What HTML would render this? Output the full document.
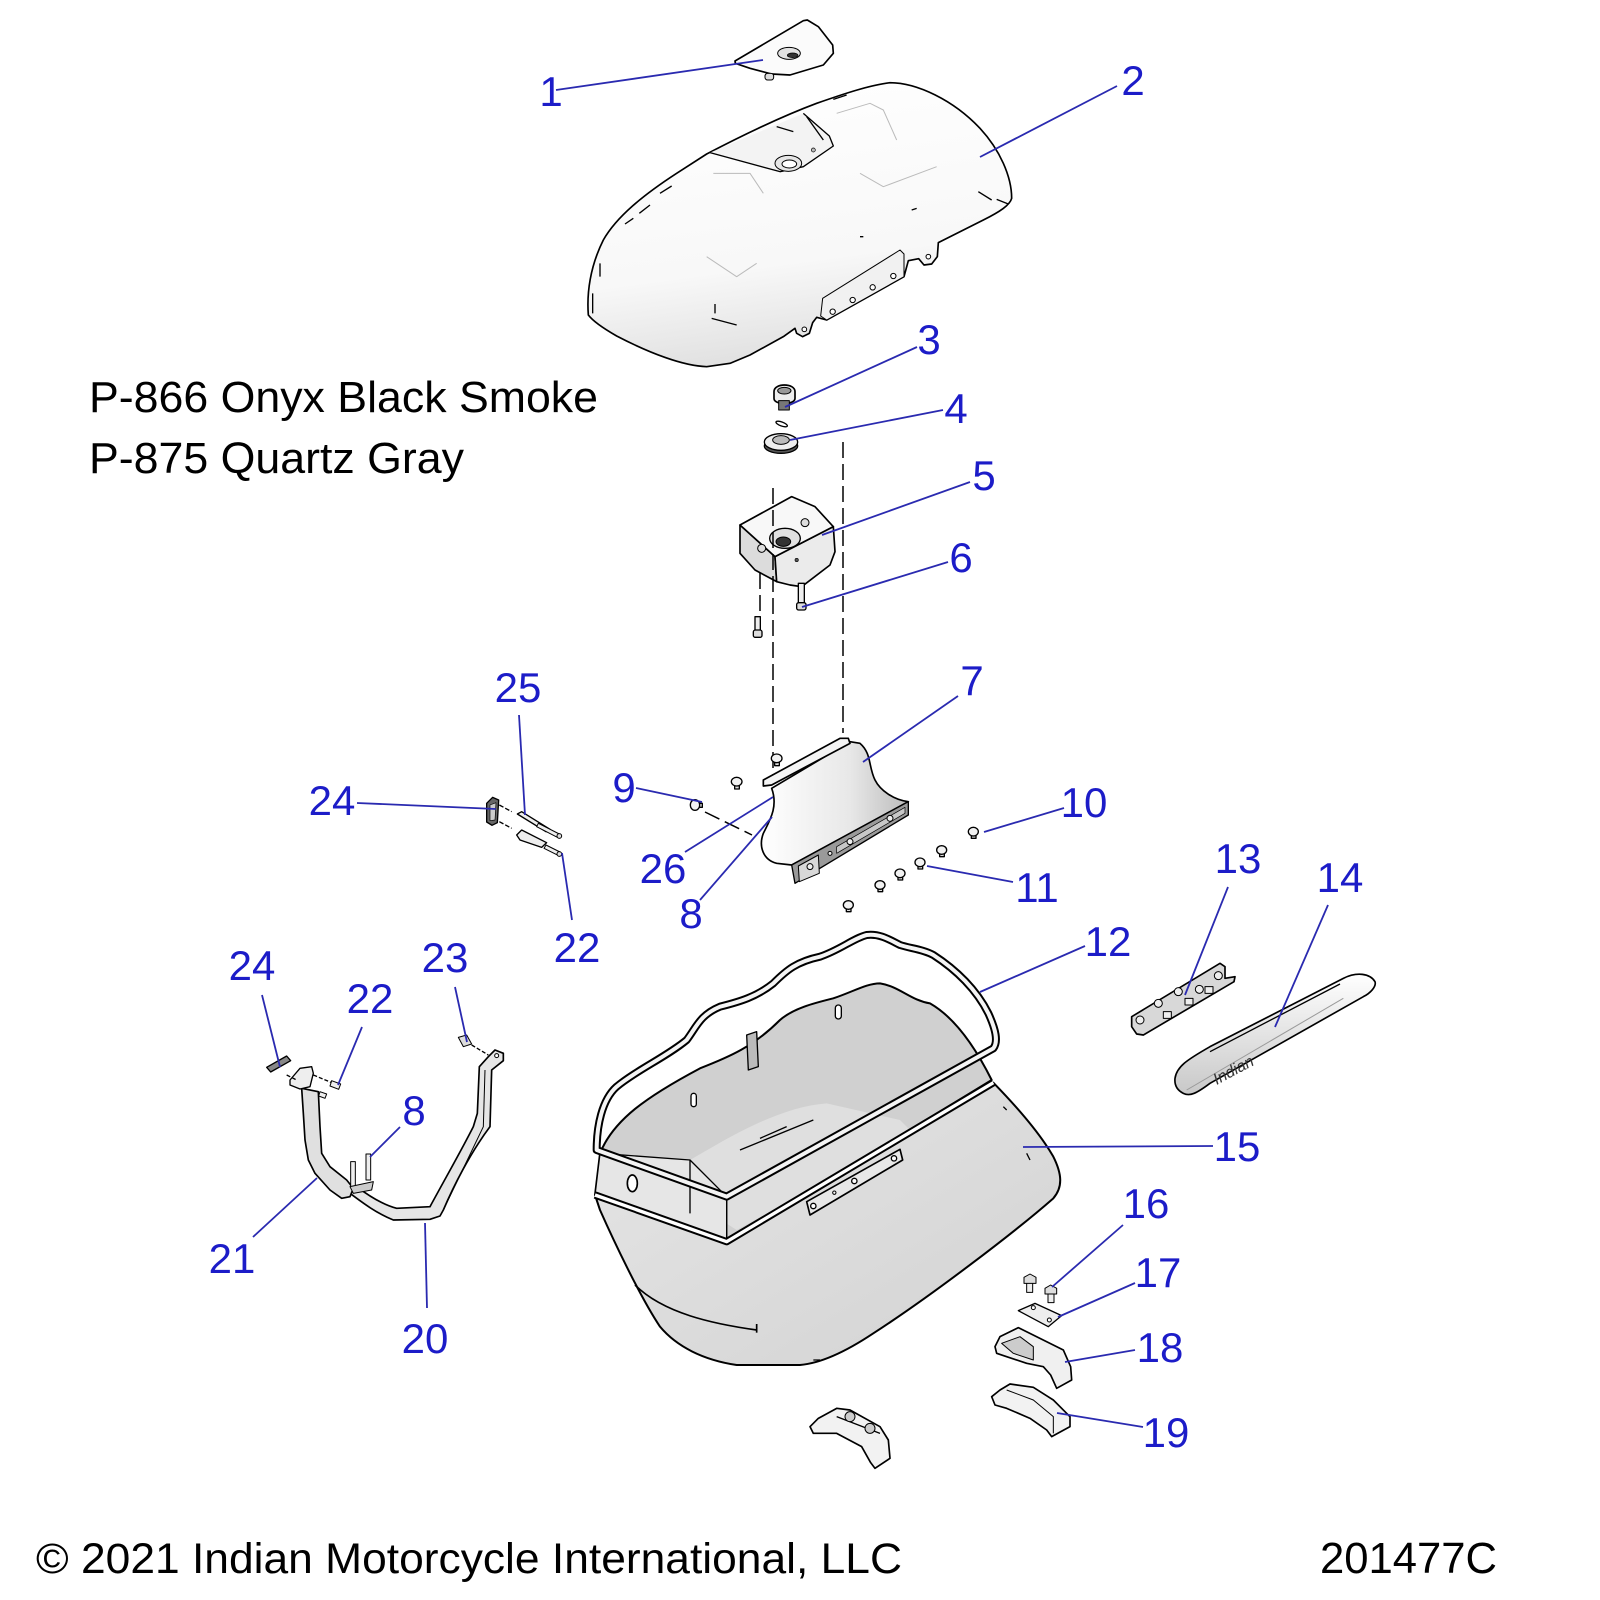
<!DOCTYPE html>
<html>
<head>
<meta charset="utf-8">
<style>
html,body{margin:0;padding:0;background:#fff;}
svg{display:block;}
text{font-family:"Liberation Sans",Arial,sans-serif;}
.lb{fill:#1c1cc8;font-size:42px;text-anchor:middle;}
.ld{stroke:#2a2ab0;stroke-width:1.8;fill:none;}
.ds{stroke:#000;stroke-width:1.5;stroke-dasharray:16 6;fill:none;}
</style>
</head>
<body>
<svg width="1600" height="1600" viewBox="0 0 1600 1600" xmlns="http://www.w3.org/2000/svg">
<defs>
<linearGradient id="gLid" x1="0" y1="0" x2="0.2" y2="1">
<stop offset="0" stop-color="#ffffff"/><stop offset="0.7" stop-color="#f8f8f8"/><stop offset="1" stop-color="#e2e2e2"/>
</linearGradient>
<linearGradient id="gBag" x1="0" y1="0" x2="1" y2="1">
<stop offset="0" stop-color="#e6e6e6"/><stop offset="0.5" stop-color="#dcdcdc"/><stop offset="1" stop-color="#d2d2d2"/>
</linearGradient>
<linearGradient id="gCyl" x1="0" y1="0" x2="1" y2="0">
<stop offset="0" stop-color="#ffffff"/><stop offset="0.6" stop-color="#e8e8e8"/><stop offset="1" stop-color="#bcbcbc"/>
</linearGradient>
<linearGradient id="gTrim" x1="0" y1="0" x2="0" y2="1">
<stop offset="0" stop-color="#ffffff"/><stop offset="1" stop-color="#c8c8c8"/>
</linearGradient>
</defs>
<rect width="1600" height="1600" fill="#fff"/>

<!-- ===== Lid (2) and cap (1) : zoom2 coords ===== -->
<g transform="translate(550,0) scale(0.3333333)" stroke="#000" stroke-linejoin="round">
  <!-- cap 1 -->
  <path d="M555,183 L760,62 L772,60 L805,80 L848,135 L850,160 L820,195 L720,225 L665,222 L600,205 L556,190 Z" fill="#fbfbfb" stroke-width="5"/>
  <ellipse cx="717" cy="160" rx="34" ry="18" fill="#e2e2e2" stroke-width="3"/>
  <ellipse cx="728" cy="166" rx="16" ry="7" fill="#333" stroke-width="2"/>
  <rect x="645" y="220" width="26" height="20" rx="8" fill="#ddd" stroke-width="3"/>
  <!-- lid -->
  <path d="M115,945 C110,880 120,800 160,720 C200,650 280,585 380,520 L470,462 C560,415 680,355 800,310 C880,282 960,255 1020,248 C1100,248 1210,300 1290,385 C1350,450 1385,530 1385,595 C1380,615 1350,635 1300,660 L1165,728 L1162,770 L1145,792 L1122,795 L1106,776 L1075,782 L1062,830 L830,960 L800,952 L788,968 L778,1000 L758,1010 L740,1000 L735,985 L700,1010 L600,1065 L540,1090 L470,1100 C400,1098 300,1060 200,1008 C160,985 130,965 115,945 Z" fill="url(#gLid)" stroke-width="5"/>
  <!-- flange -->
  <path d="M818,895 L1050,750 L1062,762 L1062,830 L830,960 L812,948 Z" fill="#f1f1f1" stroke-width="3"/>
  <circle cx="848" cy="935" r="8" fill="#fff" stroke-width="3"/>
  <circle cx="908" cy="900" r="8" fill="#fff" stroke-width="3"/>
  <circle cx="968" cy="862" r="8" fill="#fff" stroke-width="3"/>
  <circle cx="1030" cy="828" r="8" fill="#fff" stroke-width="3"/>
  <circle cx="1135" cy="770" r="7" fill="#fff" stroke-width="3"/>
  <circle cx="763" cy="988" r="7" fill="#fff" stroke-width="3"/>
  <!-- recessed panel -->
  <path d="M480,458 L690,515 L760,500 L850,438 L838,408 L760,340" fill="#f3f3f3" stroke-width="4"/>
  <ellipse cx="715" cy="490" rx="40" ry="24" fill="#e6e6e6" stroke-width="3"/>
  <ellipse cx="718" cy="492" rx="22" ry="12" fill="#fff" stroke-width="3"/>
  <circle cx="790" cy="450" r="6" fill="#bbb" stroke-width="2"/>
  <!-- feature dashes -->
  <g fill="none" stroke-width="4">
    <path d="M225,672 L250,655 M268,640 L300,615 M330,580 L365,558 M128,880 L128,940 M150,790 L150,830 M485,955 L560,975 M1085,630 L1100,625 M1285,575 L1325,600 M1340,598 L1375,612 M850,298 L890,285 M680,380 L730,395 M770,350 L820,420 M495,912 L495,940 M930,710 L940,710"/>
  </g>
  <g fill="none" stroke="#bbb" stroke-width="3">
    <path d="M470,770 L560,830 L620,790 M860,340 L960,310 L1000,330 L1040,420 M930,520 L1000,560 L1160,500 M490,520 L600,520 L640,580"/>
  </g>
</g>

<!-- ===== Parts 3-6 : zoom9 coords ===== -->
<g transform="translate(700,360) scale(0.3333333)" stroke="#000" stroke-linejoin="round">
  <path d="M222,95 C222,80 240,75 253,75 C270,75 285,82 285,95 L285,115 C285,125 270,130 253,130 C235,130 222,125 222,115 Z" fill="#eee" stroke-width="5"/>
  <ellipse cx="253" cy="92" rx="20" ry="10" fill="#999" stroke-width="3"/>
  <rect x="236" y="122" width="32" height="28" fill="#777" stroke-width="3"/>
  <ellipse cx="245" cy="192" rx="18" ry="6" transform="rotate(20 245 192)" fill="#fff" stroke-width="4"/>
  <ellipse cx="243" cy="258" rx="50" ry="22" fill="#555" stroke-width="4"/>
  <ellipse cx="243" cy="246" rx="50" ry="25" fill="#eee" stroke-width="4"/>
  <ellipse cx="243" cy="240" rx="25" ry="13" fill="#bbb" stroke-width="3"/>
  <!-- block 5 -->
  <path d="M120,495 L120,580 L165,630 L230,665 L225,590 Z" fill="#dcdcdc" stroke-width="5"/>
  <path d="M225,590 L400,500 L405,575 L390,615 L305,680 L270,675 L230,665 Z" fill="#ebebeb" stroke-width="5"/>
  <path d="M120,495 L275,410 L345,440 L400,500 L225,590 Z" fill="#f8f8f8" stroke-width="5"/>
  <ellipse cx="255" cy="535" rx="46" ry="30" fill="#e0e0e0" stroke-width="4"/>
  <ellipse cx="250" cy="545" rx="22" ry="14" fill="#333" stroke-width="3"/>
  <circle cx="185" cy="565" r="12" fill="#ddd" stroke-width="3"/>
  <circle cx="315" cy="488" r="12" fill="#ddd" stroke-width="3"/>
  <circle cx="290" cy="600" r="5" fill="#555" stroke-width="2"/>
  <!-- screws 6 -->
  <rect x="295" y="670" width="18" height="65" fill="#eee" stroke-width="4"/>
  <rect x="290" y="728" width="28" height="22" rx="6" fill="#ddd" stroke-width="4"/>
  <rect x="165" y="770" width="16" height="50" fill="#eee" stroke-width="4"/>
  <rect x="160" y="810" width="26" height="22" rx="6" fill="#ddd" stroke-width="4"/>
</g>

<!-- dashed lines -->
<path class="ds" d="M843,442 L843,733"/>
<path class="ds" d="M773,488 L773,783"/>
<path class="ds" d="M760,573 L760,615"/>
<path class="ds" d="M705,812 L752,835"/>

<!-- ===== Part 7 and fasteners : zoom10 coords ===== -->
<g transform="translate(680,700) scale(0.3333333)" stroke="#000" stroke-linejoin="round">
  <path d="M275,265 C295,320 270,360 250,400 C235,440 250,480 290,490 L335,495 L685,305 C640,300 600,270 585,240 C565,200 575,160 540,130 L510,125 Z" fill="url(#gCyl)" stroke-width="5"/>
  <path d="M250,240 L480,115 L505,115 L510,130 L275,255 L250,258 Z" fill="#f4f4f4" stroke-width="5"/>
  <path d="M335,495 L685,305 L685,345 L345,550 Z" fill="#9a9a9a" stroke-width="4"/>
  <path d="M355,498 L415,465 L418,520 L358,545 Z" fill="#d8d8d8" stroke-width="3"/>
  <path d="M470,440 L675,322 L675,340 L470,460 Z" fill="#c8c8c8" stroke-width="2"/>
  <circle cx="390" cy="500" r="9" fill="#eee" stroke-width="3"/>
  <circle cx="450" cy="460" r="6" fill="#eee" stroke-width="3"/>
  <circle cx="510" cy="425" r="9" fill="#eee" stroke-width="3"/>
  <circle cx="630" cy="355" r="9" fill="#eee" stroke-width="3"/>
  <g fill="#f2f2f2" stroke-width="4">
    <g transform="translate(290,175)"><rect x="-6" y="0" width="14" height="22" fill="#ddd"/><ellipse cx="0" cy="0" rx="16" ry="13"/></g>
    <g transform="translate(170,245)"><rect x="-6" y="0" width="14" height="22" fill="#ddd"/><ellipse cx="0" cy="0" rx="16" ry="13"/></g>
    <g transform="translate(45,315)"><rect x="0" y="-5" width="22" height="12" fill="#ddd"/><ellipse cx="0" cy="0" rx="14" ry="16"/></g>
    <g transform="translate(505,615)"><rect x="-6" y="0" width="14" height="20" fill="#ddd"/><ellipse cx="0" cy="0" rx="15" ry="13"/></g>
    <g transform="translate(600,555)"><rect x="-6" y="0" width="14" height="20" fill="#ddd"/><ellipse cx="0" cy="0" rx="15" ry="13"/></g>
    <g transform="translate(660,520)"><rect x="-6" y="0" width="14" height="20" fill="#ddd"/><ellipse cx="0" cy="0" rx="15" ry="13"/></g>
    <g transform="translate(720,487)"><rect x="-6" y="0" width="14" height="20" fill="#ddd"/><ellipse cx="0" cy="0" rx="15" ry="13"/></g>
    <g transform="translate(785,450)"><rect x="-6" y="0" width="14" height="20" fill="#ddd"/><ellipse cx="0" cy="0" rx="15" ry="13"/></g>
    <g transform="translate(880,395)"><rect x="-6" y="0" width="14" height="20" fill="#ddd"/><ellipse cx="0" cy="0" rx="15" ry="13"/></g>
  </g>
</g>

<!-- ===== Parts 24/25 : zoom11 coords ===== -->
<g transform="translate(470,790) scale(0.3333333)" stroke="#000" stroke-linejoin="round">
  <path d="M50,40 L68,22 L86,30 L82,98 L66,106 L50,96 Z" fill="#666" stroke-width="4"/>
  <path d="M60,45 L78,38 L75,90 L60,92 Z" fill="#ccc" stroke-width="2"/>
  <path d="M88,45 L125,65 M88,95 L125,115" fill="none" stroke-width="4" stroke-dasharray="14 6"/>
  <path d="M142,72 L155,65 L240,118 L228,125 Z" fill="#eee" stroke-width="4"/>
  <path d="M140,135 L155,120 L230,158 L215,172 L150,150 Z" fill="#eee" stroke-width="4"/>
  <path d="M205,100 L268,132 L262,142 L200,110 Z" fill="#eee" stroke-width="3"/>
  <path d="M228,165 L270,186 L264,196 L222,175 Z" fill="#eee" stroke-width="3"/>
  <circle cx="268" cy="138" r="7" fill="#ddd" stroke-width="3"/>
  <circle cx="268" cy="192" r="7" fill="#ddd" stroke-width="3"/>
</g>

<!-- ===== Saddlebag 15 and rail 12 : zoom5 coords ===== -->
<g transform="translate(580,920) scale(0.3333333)" stroke="#000" stroke-linejoin="round">
  <!-- outer body -->
  <path d="M45,825 L440,965 L1240,488 C1310,560 1380,640 1420,710 C1445,760 1450,800 1420,835 C1300,940 1050,1130 880,1240 C790,1300 720,1330 660,1335 L470,1335 C370,1320 290,1280 240,1220 C180,1130 100,960 60,870 Z" fill="url(#gBag)" stroke-width="6"/>
  <path d="M165,1095 C250,1180 400,1212 530,1230" fill="none" stroke-width="5"/>
  <path d="M530,1212 L530,1238" fill="none" stroke-width="5"/>
  <!-- inner -->
  <path d="M60,700 C100,600 200,530 360,445 C450,410 520,380 600,300 C640,265 700,250 760,235 C820,215 860,190 900,190 C960,200 990,240 1050,250 C1120,290 1180,370 1235,480 L440,965 L45,825 Z" fill="#d0d0d0" stroke-width="6"/>
  <path d="M330,720 C450,650 600,560 740,550 L960,600 L1000,640 L470,930 L330,840 Z" fill="#dfdfdf" stroke="none"/>
  <path d="M60,700 L330,720 L440,830 L440,965 L45,825 Z" fill="#e6e6e6" stroke-width="4"/>
  <path d="M330,720 L330,880 M440,830 L440,960" fill="none" stroke-width="4"/>
  <ellipse cx="157" cy="790" rx="15" ry="25" fill="#fff" stroke-width="5"/>
  <rect x="766" y="255" width="18" height="42" rx="9" fill="#fff" stroke-width="4"/>
  <rect x="333" y="520" width="16" height="40" rx="8" fill="#fff" stroke-width="4"/>
  <path d="M500,345 L530,335 L535,440 L505,450 Z" fill="#bbb" stroke-width="4"/>
  <path d="M480,690 L700,600 M540,655 L620,620" fill="none" stroke-width="4"/>
  <!-- rim -->
  <path d="M45,825 L440,965 L1240,488" fill="none" stroke="#000" stroke-width="22"/>
  <path d="M45,825 L440,965 L1240,488" fill="none" stroke="#fff" stroke-width="10"/>
  <!-- rail 12 -->
  <path d="M50,690 C50,620 65,540 110,500 C170,450 260,410 320,360 C350,320 360,285 420,260 C480,245 530,230 580,190 C620,150 650,125 720,110 C780,90 820,55 860,45 C900,40 930,60 960,75 C990,85 1030,88 1060,105 C1130,150 1190,210 1225,280 C1248,330 1255,365 1240,385 L440,830 Z" fill="none" stroke="#000" stroke-width="24"/>
  <path d="M50,690 C50,620 65,540 110,500 C170,450 260,410 320,360 C350,320 360,285 420,260 C480,245 530,230 580,190 C620,150 650,125 720,110 C780,90 820,55 860,45 C900,40 930,60 960,75 C990,85 1030,88 1060,105 C1130,150 1190,210 1225,280 C1248,330 1255,365 1240,385 L440,830 Z" fill="none" stroke="#f4f4f4" stroke-width="12"/>
  <!-- strip -->
  <path d="M680,845 L960,688 L968,720 L690,885 Z" fill="#e8e8e8" stroke-width="5"/>
  <circle cx="700" cy="858" r="8" fill="#fff" stroke-width="4"/>
  <circle cx="763" cy="818" r="5" fill="#fff" stroke-width="3"/>
  <circle cx="823" cy="783" r="8" fill="#fff" stroke-width="4"/>
  <circle cx="942" cy="715" r="8" fill="#fff" stroke-width="4"/>
  <path d="M1270,560 L1280,570 M1340,700 L1350,720 M700,1320 L720,1320" fill="none" stroke-width="4"/>
</g>

<!-- ===== Bracket 20/21 : zoom6 coords ===== -->
<g transform="translate(190,940) scale(0.3333333)" stroke="#000" stroke-linejoin="round">
  <path d="M480,760 C520,790 560,820 610,840 L720,838 L750,828 L760,810 C790,740 840,640 900,560 L905,390 L940,362 L940,340 L915,330 L895,350 L868,380 L862,520 L850,560 C820,620 780,690 720,800 L620,805 C580,795 540,770 500,740 Z" fill="#e6e6e6" stroke-width="5"/>
  <path d="M760,810 L880,560 L885,390" fill="none" stroke-width="3"/>
  <circle cx="920" cy="347" r="6" fill="#fff" stroke-width="3"/>
  <path d="M335,445 L385,455 L390,560 L395,640 L420,680 L470,720 L490,745 L480,770 L455,775 L420,750 L375,700 L355,660 L345,600 L340,520 Z" fill="#e0e0e0" stroke-width="5"/>
  <path d="M300,420 L330,385 L365,380 L370,400 L360,440 L330,447 L300,435 Z" fill="#eee" stroke-width="4"/>
  <path d="M370,405 L425,428 M290,405 L320,420" fill="none" stroke-width="4" stroke-dasharray="12 6"/>
  <path d="M425,422 L452,432 L446,448 L420,438 Z" fill="#eee" stroke-width="3"/>
  <path d="M390,455 L410,462 L405,475 L386,468 Z" fill="#eee" stroke-width="3"/>
  <path d="M230,382 L290,348 L302,362 L242,396 Z" fill="#888" stroke-width="4"/>
  <rect x="482" y="665" width="14" height="75" fill="#eee" stroke-width="3"/>
  <rect x="528" y="642" width="14" height="78" fill="#eee" stroke-width="3"/>
  <path d="M480,740 L550,725 L545,750 L490,760 Z" fill="#ccc" stroke-width="3"/>
  <path d="M805,292 L830,285 L845,312 L820,320 Z" fill="#ddd" stroke-width="3"/>
  <path d="M845,315 L895,345" fill="none" stroke-width="4" stroke-dasharray="12 6"/>
</g>

<!-- ===== 13 / 14 : zoom7 coords ===== -->
<g transform="translate(1110,830) scale(0.3333333)" stroke="#000" stroke-linejoin="round">
  <path d="M65,560 L330,400 L345,410 L345,445 L375,440 L372,455 L100,615 L80,612 L65,590 Z" fill="#d8d8d8" stroke-width="5"/>
  <g fill="#eee" stroke-width="3">
    <circle cx="90" cy="570" r="12"/><circle cx="145" cy="520" r="12"/><circle cx="205" cy="485" r="12"/><circle cx="268" cy="478" r="12"/><circle cx="325" cy="437" r="12"/>
    <rect x="160" y="545" width="24" height="20"/><rect x="225" y="505" width="24" height="20"/><rect x="285" y="470" width="24" height="20"/>
  </g>
  <path d="M195,745 C200,710 230,690 300,650 L700,445 C740,425 780,430 795,455 C800,470 780,490 760,500 L300,760 C260,790 240,800 220,790 C200,780 193,765 195,745 Z" fill="url(#gTrim)" stroke-width="5"/>
  <path d="M300,665 L690,462" fill="none" stroke-width="4"/>
  <path d="M230,780 L700,505" fill="none" stroke="#999" stroke-width="3"/>
  <text x="320" y="765" transform="rotate(-28 320 765)" font-family="Liberation Serif,serif" font-style="italic" font-size="48" fill="#333" stroke="none">Indian</text>
</g>

<!-- ===== 16-19 + bottom part : zoom8 coords ===== -->
<g transform="translate(800,1170) scale(0.3333333)" stroke="#000" stroke-linejoin="round">
  <rect x="680" y="335" width="18" height="32" fill="#eee" stroke-width="3"/>
  <path d="M672,322 L690,312 L708,322 L708,340 L672,340 Z" fill="#ddd" stroke-width="3"/>
  <rect x="744" y="368" width="18" height="30" fill="#eee" stroke-width="3"/>
  <path d="M735,355 L752,345 L770,355 L770,372 L735,372 Z" fill="#ddd" stroke-width="3"/>
  <path d="M655,422 L705,400 L785,437 L745,470 Z" fill="#eee" stroke-width="4"/>
  <circle cx="700" cy="413" r="6" fill="#fff" stroke-width="3"/>
  <circle cx="748" cy="450" r="6" fill="#fff" stroke-width="3"/>
  <path d="M585,530 L600,500 L655,473 L790,540 L812,590 L815,630 L770,655 L752,615 L730,590 L680,580 L620,560 L590,550 Z" fill="#f0f0f0" stroke-width="5"/>
  <path d="M605,520 L660,500 L700,530 L700,570 L640,550 Z" fill="#ccc" stroke-width="3"/>
  <path d="M575,680 L600,660 L630,642 L700,652 L760,690 L810,740 L810,770 L755,800 L740,780 L690,745 L620,715 L585,705 Z" fill="#f2f2f2" stroke-width="5"/>
  <path d="M620,660 L700,690 L760,740 L760,790" fill="none" stroke-width="3"/>
  <path d="M30,770 L55,745 L110,715 L150,720 L240,770 L265,810 L270,865 L225,895 L212,878 L185,830 L110,790 L40,790 Z" fill="#f2f2f2" stroke-width="5"/>
  <path d="M110,740 L240,790" fill="none" stroke-width="4"/>
  <circle cx="150" cy="740" r="15" fill="#ccc" stroke-width="3"/>
  <circle cx="210" cy="775" r="15" fill="#ccc" stroke-width="3"/>
</g>

<!-- ===== Leaders ===== -->
<g class="ld">
  <line x1="556" y1="90" x2="763" y2="60"/>
  <line x1="1117" y1="86" x2="980" y2="157"/>
  <line x1="917" y1="347" x2="785" y2="407"/>
  <line x1="943" y1="410" x2="790" y2="440"/>
  <line x1="970" y1="482" x2="822" y2="535"/>
  <line x1="948" y1="562" x2="802" y2="607"/>
  <line x1="958" y1="696" x2="863" y2="762"/>
  <line x1="636" y1="788" x2="702" y2="802"/>
  <line x1="1064" y1="808" x2="984" y2="832"/>
  <line x1="685" y1="852" x2="773" y2="797"/>
  <line x1="700" y1="900" x2="772" y2="817"/>
  <line x1="1013" y1="882" x2="927" y2="866"/>
  <line x1="519" y1="715" x2="525" y2="815"/>
  <line x1="357" y1="803" x2="496" y2="809"/>
  <line x1="572" y1="920" x2="562" y2="853"/>
  <line x1="1085" y1="946" x2="980" y2="992"/>
  <line x1="1213" y1="1146" x2="1023" y2="1147"/>
  <line x1="1228" y1="887" x2="1185" y2="995"/>
  <line x1="1328" y1="905" x2="1275" y2="1027"/>
  <line x1="262" y1="995" x2="280" y2="1067"/>
  <line x1="362" y1="1027" x2="338" y2="1085"/>
  <line x1="455" y1="987" x2="467" y2="1042"/>
  <line x1="400" y1="1127" x2="370" y2="1157"/>
  <line x1="253" y1="1237" x2="317" y2="1178"/>
  <line x1="427" y1="1308" x2="425" y2="1223"/>
  <line x1="1123" y1="1225" x2="1052" y2="1287"/>
  <line x1="1135" y1="1283" x2="1058" y2="1317"/>
  <line x1="1135" y1="1350" x2="1065" y2="1362"/>
  <line x1="1143" y1="1427" x2="1057" y2="1413"/>
</g>

<!-- ===== Labels ===== -->
<g>
  <text class="lb" x="551" y="106">1</text>
  <text class="lb" x="1133" y="95">2</text>
  <text class="lb" x="929" y="354">3</text>
  <text class="lb" x="956" y="423">4</text>
  <text class="lb" x="984" y="490">5</text>
  <text class="lb" x="961" y="572">6</text>
  <text class="lb" x="972" y="695">7</text>
  <text class="lb" x="624" y="802">9</text>
  <text class="lb" x="1084" y="817">10</text>
  <text class="lb" x="663" y="883">26</text>
  <text class="lb" x="691" y="928">8</text>
  <text class="lb" x="1037" y="902">11</text>
  <text class="lb" x="518" y="702">25</text>
  <text class="lb" x="332" y="815">24</text>
  <text class="lb" x="577" y="962">22</text>
  <text class="lb" x="1108" y="956">12</text>
  <text class="lb" x="1238" y="873">13</text>
  <text class="lb" x="1340" y="892">14</text>
  <text class="lb" x="1237" y="1161">15</text>
  <text class="lb" x="252" y="980">24</text>
  <text class="lb" x="370" y="1013">22</text>
  <text class="lb" x="445" y="972">23</text>
  <text class="lb" x="414" y="1125">8</text>
  <text class="lb" x="232" y="1273">21</text>
  <text class="lb" x="425" y="1353">20</text>
  <text class="lb" x="1146" y="1218">16</text>
  <text class="lb" x="1158" y="1287">17</text>
  <text class="lb" x="1160" y="1362">18</text>
  <text class="lb" x="1166" y="1447">19</text>
</g>

<!-- ===== Black text ===== -->
<text x="89" y="412" font-size="44" fill="#000" textLength="509" lengthAdjust="spacingAndGlyphs">P-866 Onyx Black Smoke</text>
<text x="89" y="473" font-size="44" fill="#000" textLength="375" lengthAdjust="spacingAndGlyphs">P-875 Quartz Gray</text>
<text x="36" y="1573" font-size="43" fill="#000" textLength="866" lengthAdjust="spacingAndGlyphs">© 2021 Indian Motorcycle International, LLC</text>
<text x="1320" y="1573" font-size="44" fill="#000" textLength="177" lengthAdjust="spacingAndGlyphs">201477C</text>
</svg>
</body>
</html>
